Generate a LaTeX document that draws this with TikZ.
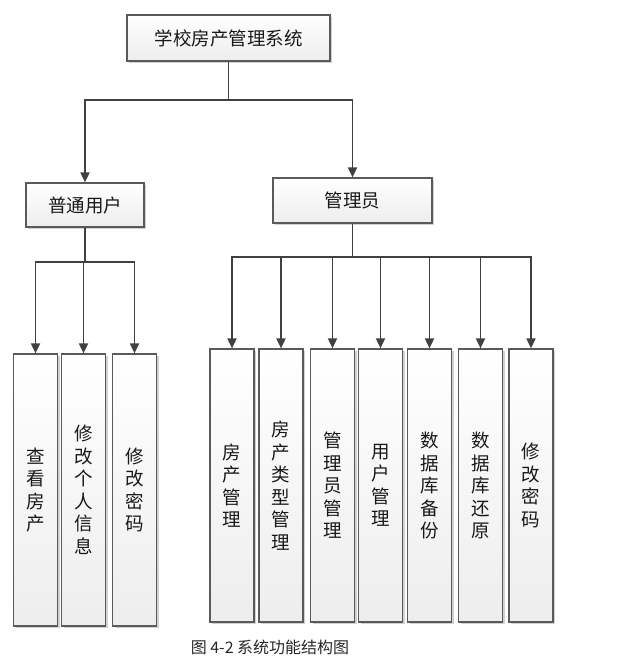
\documentclass[tikz,border=0pt]{standalone}
\usepackage{fontspec}
\usepackage{tikz}
\usetikzlibrary{arrows.meta,shadows}
\newfontfamily\cjk{Noto Sans CJK SC}
\definecolor{linegray}{HTML}{404040}
\definecolor{boxgray}{HTML}{5A5A5A}

\tikzset{
  box/.style={draw=boxgray, line width=1.2pt, top color=white, bottom color=black!7,
    inner sep=0pt, align=center, text=black!90,
    drop shadow={shadow xshift=2pt, shadow yshift=-2pt, fill=black!30, opacity=.6},
    font=\cjk\fontsize{18.5}{22.5}\selectfont},
  link/.style={draw=linegray, line width=1.8pt},
  arr/.style={link, -{Triangle[width=9pt,length=10pt]}}
}

\begin{document}
\begin{tikzpicture}[x=1pt,y=-1pt]
  \useasboundingbox (0,0) rectangle (621,661);

  % top level
  \node[box, minimum width=203pt, minimum height=46pt] (sys) at (228.5,38) {学校房产管理系统};
  \node[box, minimum width=118pt, minimum height=44pt] (user) at (85,205) {普通用户};
  \node[box, minimum width=159pt, minimum height=45pt] (admin) at (352.5,200.5) {管理员};

  \coordinate (j0) at (228.5,100);
  \draw[link] (sys.south) -- (j0);
  \draw[arr] (j0) -| (user.north);
  \draw[arr] (j0) -| (admin.north);

  % user functions
  \foreach \name/\x/\txt in {u1/35.5/查\\看\\房\\产, u2/83.5/修\\改\\个\\人\\信\\息, u3/134.5/修\\改\\密\\码}
    \node[box, minimum width=44pt, minimum height=272pt] (\name) at (\x,490) {\txt};

  \coordinate (j1) at (85,262);
  \draw[link] (user.south) -- (j1);
  \foreach \name in {u1,u2,u3}
    \draw[arr] (j1) -| (\name.north);

  % admin functions
  \foreach \name/\x/\txt in {a1/232/房\\产\\管\\理, a2/281/房\\产\\类\\型\\管\\理,
      a3/332.5/管\\理\\员\\管\\理, a4/380.5/用\\户\\管\\理, a5/429.5/数\\据\\库\\备\\份,
      a6/480.5/数\\据\\库\\还\\原, a7/531/修\\改\\密\\码}
    \node[box, minimum width=44pt, minimum height=273pt] (\name) at (\x,485.5) {\txt};

  \coordinate (j2) at (352.5,257);
  \draw[link] (admin.south) -- (j2);
  \foreach \name in {a1,a2,a3,a4,a5,a6,a7}
    \draw[arr] (j2) -| (\name.north);

  % caption
  \node[font=\cjk\fontsize{16}{18}\selectfont, text=black!85] (cap) at (270,647) {图 4-2 系统功能结构图};
\end{tikzpicture}
\end{document}
